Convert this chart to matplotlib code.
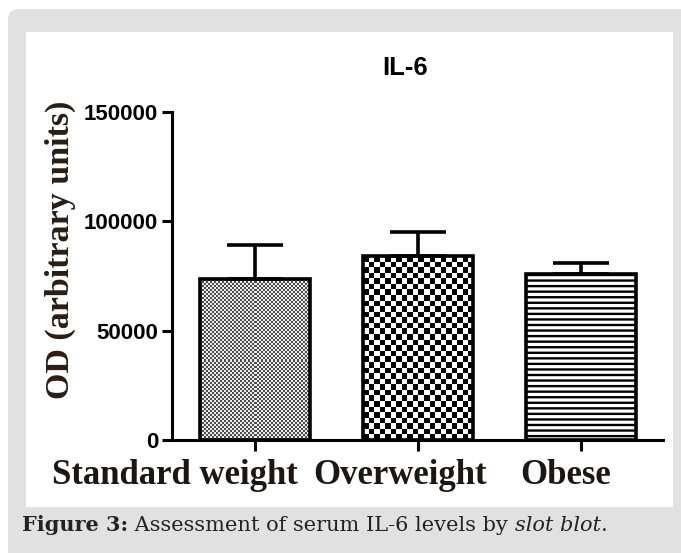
import matplotlib
matplotlib.use('Agg')
import matplotlib.pyplot as plt
import numpy as np
from matplotlib.patches import FancyBboxPatch, Rectangle
from matplotlib.transforms import IdentityTransform, ScaledTranslation

# data
groups = ['Standard weight', 'Overweight', 'Obese']
means = [73500, 84000, 76000]
sem = [15500, 11000, 5000]
yticks = [0, 50000, 100000, 150000]

W, H = 681, 553
fig = plt.figure(figsize=(W / 100, H / 100), dpi=100)
fig.patch.set_facecolor('white')
plt.rcParams['hatch.linewidth'] = 1.7

# page background: grey rounded card + white panel
fig.add_artist(FancyBboxPatch((8, -30), 720, H - 9 + 30,
                              boxstyle='round,pad=0,rounding_size=11',
                              transform=IdentityTransform(), facecolor='#e1e1e1',
                              edgecolor='none', zorder=-3))
fig.add_artist(Rectangle((26, H - 507), 647, 475, transform=IdentityTransform(),
                         facecolor='white', edgecolor='none', zorder=-2))

ax = fig.add_axes([172 / W, (H - 440) / H, (663 - 172) / W, (440 - 112) / H])
ax.set_facecolor('none')

x = np.arange(len(groups))
bw = 0.675
bars = ax.bar(x, means, width=bw, facecolor='none', edgecolor='black',
              linewidth=2.6, zorder=3)
bars[2].set_hatch('---')
ax.errorbar(x, means, yerr=[np.zeros(len(sem)), sem], fmt='none', ecolor='black',
            elinewidth=2.6, capsize=20, capthick=2.6, zorder=2)

ax.set_xlim(-0.51, 2.5)
ax.set_ylim(0, 150000)

# checker fills for the first two bars
fig.canvas.draw()
def checker(bar, cell, lo, hi):
    x0, y0 = bar.get_x(), bar.get_y()
    x1, y1 = x0 + bar.get_width(), y0 + bar.get_height()
    p0 = ax.transData.transform((x0, y0))
    p1 = ax.transData.transform((x1, y1))
    nx = max(1, int(round((p1[0] - p0[0]) / cell)))
    ny = max(1, int(round((p1[1] - p0[1]) / cell)))
    ii, jj = np.indices((ny, nx))
    arr = np.where((ii + jj) % 2 == 0, lo, hi)
    im = ax.imshow(arr, extent=(x0, x1, y0, y1), cmap='gray', vmin=0, vmax=1,
                   interpolation='nearest', aspect='auto', zorder=1)
    im.set_clip_path(bar)

checker(bars[0], 2.0, 0.3, 0.92)
checker(bars[1], 5.5, 0.0, 1.0)
ax.set_xlim(-0.51, 2.5)
ax.set_ylim(0, 150000)

for s in ['top', 'right']:
    ax.spines[s].set_visible(False)
for s in ['left', 'bottom']:
    ax.spines[s].set_linewidth(2.2)

ax.set_yticks(yticks)
ax.set_yticklabels([str(v) for v in yticks], fontfamily='Liberation Sans',
                   fontweight='bold', fontsize=16)
ax.tick_params(axis='y', length=7, width=2.2, pad=3)
ax.set_xticks(x)
ax.set_xticklabels(groups, fontfamily='Liberation Serif', fontweight='bold',
                   fontsize=25, color='#1c1712')
ax.tick_params(axis='x', length=8, width=2.2, pad=6)
for lab, dx in zip(ax.get_xticklabels(), [-80, -18, -16]):
    lab.set_transform(lab.get_transform() + ScaledTranslation(dx / 100, 0, fig.dpi_scale_trans))

fig.text(405 / W, 1 - 68 / H, 'IL-6', ha='center', va='center',
         fontfamily='Liberation Sans', fontweight='bold', fontsize=18.5)
fig.text(60 / W, 1 - 250 / H, 'OD (arbitrary units)', rotation=90, ha='center',
         va='center', fontfamily='Liberation Serif', fontweight='bold',
         fontsize=24.5, color='#2a1e14')

# caption with mixed styles
fig.canvas.draw()
r = fig.canvas.get_renderer()
cx = 22
cy = H - 531
parts = [('Figure 3:', 'bold', 'normal'),
         (' Assessment of serum IL-6 levels by ', 'normal', 'normal'),
         ('slot blot', 'normal', 'italic'),
         ('.', 'normal', 'normal')]
for txt, wt, st in parts:
    t = fig.text(cx, cy, txt, transform=IdentityTransform(), ha='left',
                 va='baseline', fontfamily='DejaVu Serif', fontweight=wt,
                 fontstyle=st, fontsize=15, color='#222222')
    cx = t.get_window_extent(r).x1

fig.savefig('out.png', dpi=100)
